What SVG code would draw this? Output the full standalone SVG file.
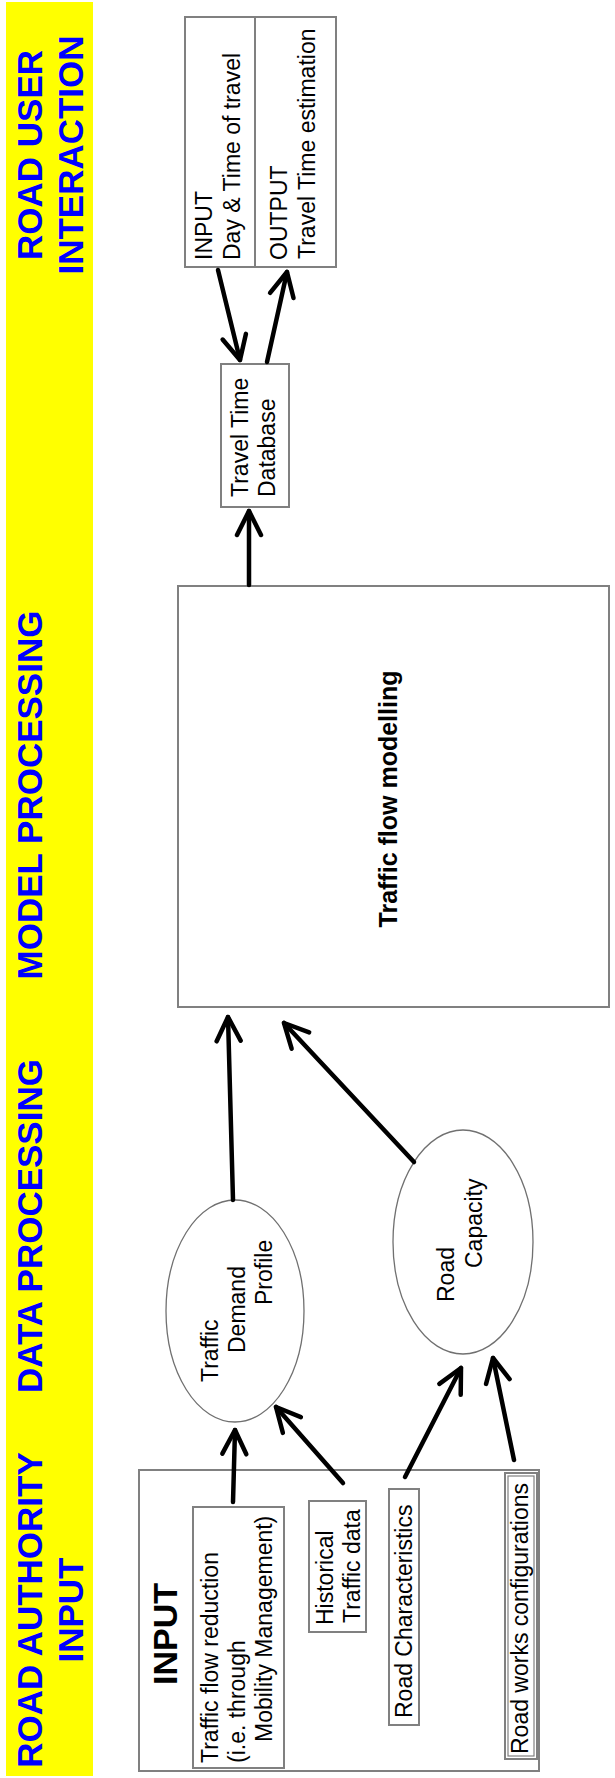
<svg xmlns="http://www.w3.org/2000/svg" width="615" height="1778" viewBox="0 0 615 1778">
<style>
.band{font-family:"Liberation Sans",Arial,sans-serif;font-weight:bold;font-size:35px;fill:#0000ff}
.t{font-family:"Liberation Sans",Arial,sans-serif;font-size:23px;fill:#000}
.tb{font-family:"Liberation Sans",Arial,sans-serif;font-weight:bold;fill:#000}
.box{fill:#fff;stroke:#808080;stroke-width:2}
.ell{fill:#fff;stroke:#707070;stroke-width:1.3}
.conn{fill:none;stroke:#000;stroke-width:4.5;stroke-linecap:round}
</style>
<defs>
<marker id="ah" markerUnits="userSpaceOnUse" viewBox="-30 -16 34 32" refX="0" refY="0" markerWidth="34" markerHeight="32" orient="auto" overflow="visible">
<path d="M-24,-12 L0,0 L-24,12" fill="none" stroke="#000" stroke-width="4.5" stroke-linecap="round" stroke-linejoin="round"/>
</marker>
</defs>
<rect width="615" height="1778" fill="#fff"/>
<g id="band">
<rect x="6" y="2" width="87" height="1774" fill="#ffff00"/>
<text class="band" text-anchor="middle" transform="rotate(-90 42 155)" x="42" y="155">ROAD USER</text>
<text class="band" text-anchor="middle" transform="rotate(-90 83 155)" x="83" y="155">INTERACTION</text>
<text class="band" text-anchor="middle" transform="rotate(-90 42 795)" x="42" y="795">MODEL PROCESSING</text>
<text class="band" text-anchor="middle" transform="rotate(-90 42 1226)" x="42" y="1226">DATA PROCESSING</text>
<text class="band" text-anchor="middle" transform="rotate(-90 42 1610)" x="42" y="1610">ROAD AUTHORITY</text>
<text class="band" text-anchor="middle" transform="rotate(-90 83 1610)" x="83" y="1610">INPUT</text>
</g>
<g id="user-io">
<rect class="box" x="185" y="17" width="151" height="250"/>
<line x1="255" y1="17" x2="255" y2="267" stroke="#808080" stroke-width="2"/>
<text class="t" transform="rotate(-90 212 260)" x="212" y="260">INPUT</text>
<text class="t" transform="rotate(-90 240 260)" x="240" y="260">Day &amp; Time of travel</text>
<text class="t" transform="rotate(-90 287 260)" x="287" y="260">OUTPUT</text>
<text class="t" transform="rotate(-90 315 259)" x="315" y="259">Travel Time estimation</text>
</g>
<g id="database">
<rect class="box" x="221" y="364" width="68" height="143"/>
<text class="t" transform="rotate(-90 248 497)" x="248" y="497">Travel Time</text>
<text class="t" transform="rotate(-90 275 497)" x="275" y="497">Database</text>
</g>
<g id="traffic-flow-modelling">
<rect class="box" x="178" y="586" width="431" height="421"/>
<text class="tb" font-size="25" text-anchor="middle" transform="rotate(-90 397 799)" x="397" y="799">Traffic flow modelling</text>
</g>
<g id="traffic-demand-profile">
<ellipse class="ell" cx="235" cy="1311" rx="69" ry="111"/>
<text class="t" transform="rotate(-90 218 1382)" x="218" y="1382">Traffic</text>
<text class="t" transform="rotate(-90 245 1353)" x="245" y="1353">Demand</text>
<text class="t" transform="rotate(-90 272 1305)" x="272" y="1305">Profile</text>
</g>
<g id="road-capacity">
<ellipse class="ell" cx="463" cy="1242" rx="70" ry="112"/>
<text class="t" transform="rotate(-90 454 1302)" x="454" y="1302">Road</text>
<text class="t" transform="rotate(-90 482 1268)" x="482" y="1268">Capacity</text>
</g>
<g id="input">
<rect class="box" x="139" y="1470" width="400" height="301"/>
<text class="tb" font-size="34" transform="rotate(-90 177 1685)" x="177" y="1685">INPUT</text>
</g>
<g id="traffic-flow-reduction">
<rect class="box" x="193" y="1507" width="91" height="261"/>
<text class="t" transform="rotate(-90 218 1763)" x="218" y="1763">Traffic flow reduction</text>
<text class="t" transform="rotate(-90 245 1763)" x="245" y="1763">(i.e. through</text>
<text class="t" transform="rotate(-90 272 1742)" x="272" y="1742">Mobility Management)</text>
</g>
<g id="historical-traffic-data">
<rect class="box" x="309" y="1501" width="57" height="131"/>
<text class="t" transform="rotate(-90 333 1625)" x="333" y="1625">Historical</text>
<text class="t" transform="rotate(-90 360 1623)" x="360" y="1623">Traffic data</text>
</g>
<g id="road-characteristics">
<rect class="box" x="389" y="1489" width="30" height="236"/>
<text class="t" transform="rotate(-90 412 1718)" x="412" y="1718">Road Characteristics</text>
</g>
<g id="road-works">
<rect class="box" x="505" y="1473" width="32" height="286"/>
<rect x="508" y="1476" width="26" height="280" fill="none" stroke="#808080" stroke-width="1.2"/>
<text class="t" transform="rotate(-90 528 1754)" x="528" y="1754">Road works configurations</text>
</g>
<g id="connectors">
<line class="conn" x1="218" y1="270" x2="240" y2="360" marker-end="url(#ah)"/>
<line class="conn" x1="267" y1="362" x2="287" y2="272" marker-end="url(#ah)"/>
<line class="conn" x1="249" y1="585" x2="249" y2="511" marker-end="url(#ah)"/>
<line class="conn" x1="233" y1="1200" x2="228" y2="1017" marker-end="url(#ah)"/>
<line class="conn" x1="414" y1="1162" x2="284" y2="1023" marker-end="url(#ah)"/>
<line class="conn" x1="233" y1="1502" x2="235" y2="1430" marker-end="url(#ah)"/>
<line class="conn" x1="343" y1="1483" x2="276" y2="1407" marker-end="url(#ah)"/>
<line class="conn" x1="405" y1="1477" x2="461" y2="1368" marker-end="url(#ah)"/>
<line class="conn" x1="514" y1="1460" x2="493" y2="1358" marker-end="url(#ah)"/>
</g>
</svg>
